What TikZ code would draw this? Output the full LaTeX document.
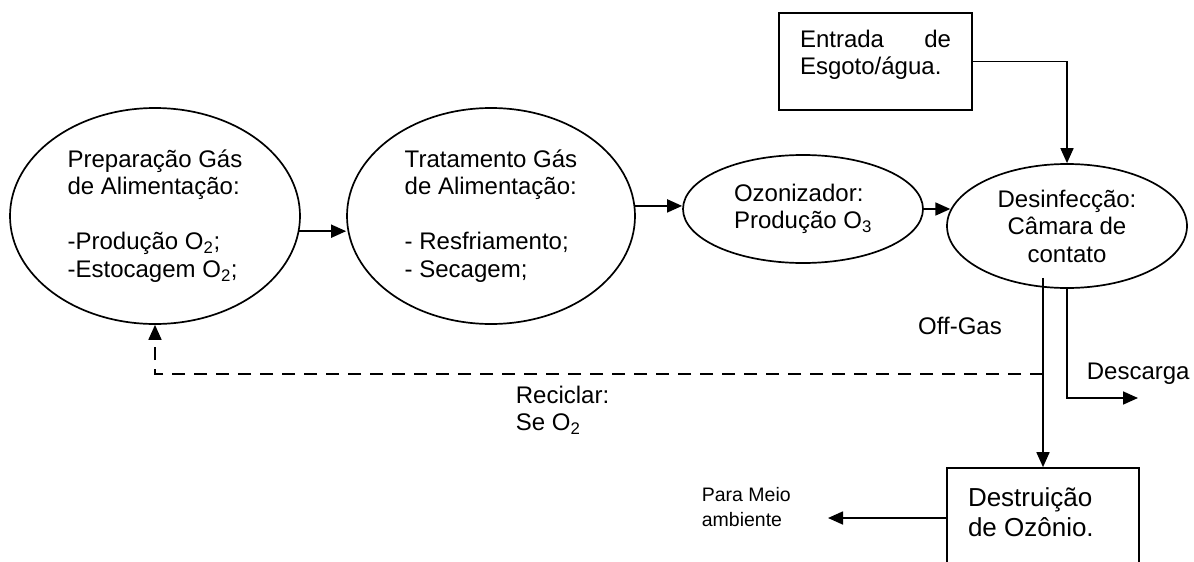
\documentclass[tikz,border=0pt]{standalone}
\usepackage{fontspec}
\setmainfont{Liberation Sans}
\usetikzlibrary{arrows.meta}
\usetikzlibrary{shapes.geometric}

\begin{document}
\begin{tikzpicture}[x=1pt,y=-1pt,line width=1.7pt,
        txt/.style={font=\fontsize{24}{27.5}\selectfont, inner sep=0pt},
        etapa/.style={draw, ellipse, txt},
        caixa/.style={draw, rectangle, inner sep=0pt},
        seta/.style={-{Triangle[length=15pt,width=13pt]}},
        retorno/.style={seta, dash pattern=on 13pt off 9pt}]
        \useasboundingbox (0,0) rectangle (1194,562);
        \clip (0,0) rectangle (1194,562);
        \node[etapa, align=left, minimum width=290pt, minimum height=216pt] (prep) at (155,216)
            {Preparação Gás\\de Alimentação:\\[27.5pt]-Produção O\textsubscript{2};\\-Estocagem O\textsubscript{2};};
        \node[etapa, align=left, minimum width=288pt, minimum height=216pt] (trat) at (491,216)
            {Tratamento Gás\\de Alimentação:\\[27.5pt]- Resfriamento;\\- Secagem;};
        \node[etapa, align=left, minimum width=240pt, minimum height=108pt] (ozon) at (803,209)
            {Ozonizador:\\Produção O\textsubscript{3}};
        \node[etapa, align=center, minimum width=240pt, minimum height=124pt] (desinf) at (1067,226)
            {Desinfecção:\\Câmara de\\contato};
        \node[caixa, minimum width=193pt, minimum height=97pt] (entrada) at (875.5,61.5) {};
        \node[txt, anchor=north west, align=left] (entradatxt) at ([shift={(21pt,-17pt)}]entrada.north west)
            {\makebox[151pt]{Entrada\hfill de}\\Esgoto/água.};
        \node[caixa, minimum width=192pt, minimum height=100pt] (destr) at (1043,518) {};
        \node[txt, font=\fontsize{26}{30}\selectfont, anchor=north west, align=left] (destrtxt)
            at ([shift={(21pt,-20pt)}]destr.north west) {Destruição\\de Ozônio.};
        \coordinate (descend) at (1138,398);
        \coordinate (split) at (destr.north |- 0,374);
        \coordinate (ambiente) at (828,518);
        \draw[seta] (prep.-6) -- (prep.-6 -| trat.west);
        \draw[seta] (trat.4) -- (trat.4 -| ozon.west);
        \draw[seta] (ozon.east) -- (ozon.east -| desinf.172);
        \draw[seta] (entrada.east) -| (desinf.north);
        \draw[seta] ([yshift=11pt]destr.north |- desinf.south) -- (destr.north);
        \draw[seta] (desinf.south) |- (descend);
        \draw[retorno] (split) -| (prep.south);
        \draw[seta] (destr.west) -- (ambiente);
        \node[txt] (offgas) at (960,326) {Off-Gas};
        \node[txt, anchor=west] (descarga) at (1086,374) {Descarga};
        \node[txt, anchor=west, align=left] (reciclar) at (515,410) {Reciclar:\\Se O\textsubscript{2}};
        \node[txt, font=\fontsize{19.5}{25}\selectfont, anchor=west, align=left] (meio) at (701,507) {Para Meio\\ambiente};
\end{tikzpicture}
\end{document}
